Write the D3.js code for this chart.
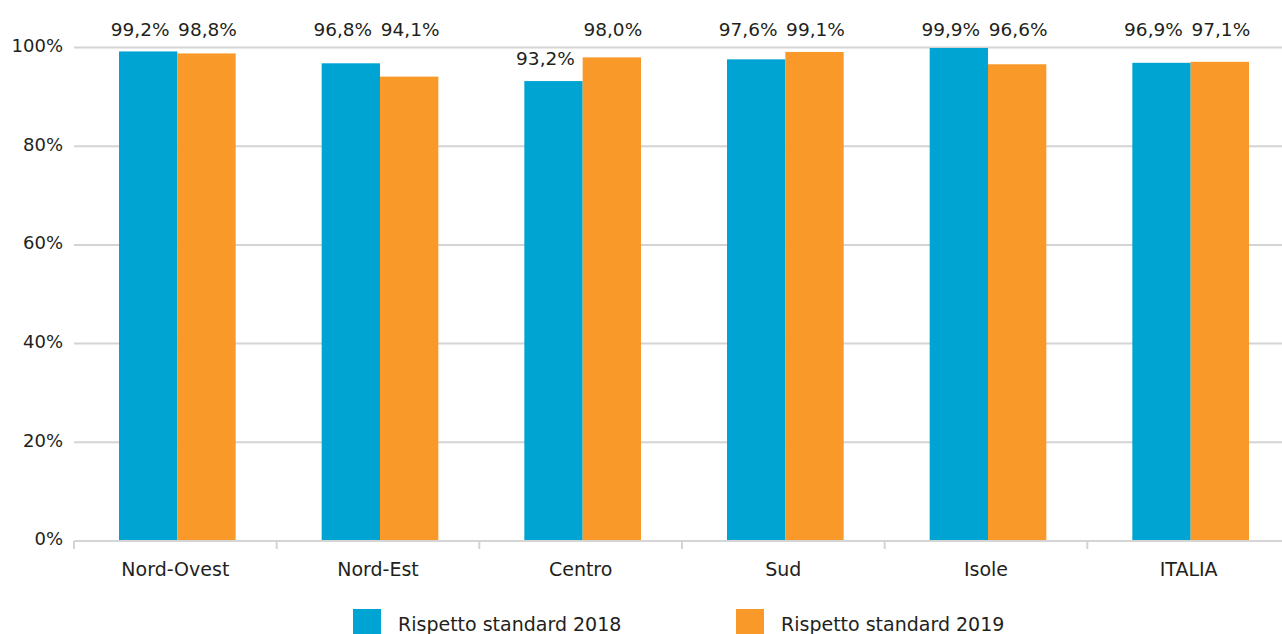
<!DOCTYPE html>
<html><head><meta charset="utf-8">
<script src="https://cdn.jsdelivr.net/npm/d3@7"></script>
<style>
html,body{margin:0;padding:0;background:#fff;}
svg{display:block;}
text{font-family:"DejaVu Sans",sans-serif;fill:#231f20;}
</style></head>
<body>
<svg id="c" width="1282" height="634"></svg>
<script>
const categories = ["Nord-Ovest","Nord-Est","Centro","Sud","Isole","ITALIA"];
const series2018 = [99.2, 96.8, 93.2, 97.6, 99.9, 96.9];
const series2019 = [98.8, 94.1, 98.0, 99.1, 96.6, 97.1];
const seriesNames = ["Rispetto standard 2018","Rispetto standard 2019"];
const yTicks = [0,20,40,60,80,100];
const colors = ["#00a4d3","#f8992a"];

const svg = d3.select("#c");
const x0 = d3.scaleBand().domain(categories).range([74,1290]).paddingInner(0).paddingOuter(0);
const x1 = d3.scaleBand().domain([0,1]).range([45, x0.bandwidth()-41]);
const y = d3.scaleLinear().domain([0,100]).range([541,47.5]);
const fmt = v => d3.format(".1f")(v).replace(".", ",") + "%";

// grid
svg.append("g").selectAll("line").data(yTicks.filter(d=>d>0)).join("line")
  .attr("x1",74).attr("x2",1282).attr("y1",d=>y(d)).attr("y2",d=>y(d))
  .attr("stroke","#d4d4d4").attr("stroke-width",2);

// y labels
svg.append("g").selectAll("text").data(yTicks).join("text")
  .attr("x",63).attr("y",d=>y(d)-2).attr("dy","0.35em").attr("text-anchor","end")
  .attr("font-size",18).text(d=>d+"%");

// bars
const data = categories.map((c,i)=>({c, vals:[series2018[i], series2019[i]]}));
const groups = svg.append("g").selectAll("g").data(data).join("g")
  .attr("transform", d=>`translate(${x0(d.c)},0)`);
groups.selectAll("rect").data(d=>d.vals.map((v,k)=>({v,k}))).join("rect")
  .attr("x",d=>x1(d.k)).attr("width",x1.bandwidth())
  .attr("y",d=>y(d.v)).attr("height",d=>y(0)-y(d.v))
  .attr("fill",d=>colors[d.k]);

// value labels
const minVal = d3.min(series2018.concat(series2019));
groups.selectAll("text").data(d=>d.vals.map((v,k)=>({v,k}))).join("text")
  .attr("x",d=>x1(d.k)+x1.bandwidth()/2 + (d.k===0?-8:1))
  .attr("y",d=> d.v===minVal ? y(d.v)-23 : 30)
  .attr("dy","0.35em").attr("text-anchor","middle").attr("font-size",18.5)
  .text(d=>fmt(d.v));

// x axis
const ax = svg.append("g");
ax.append("line").attr("x1",74).attr("x2",1282).attr("y1",y(0)).attr("y2",y(0))
  .attr("stroke","#d4d4d4").attr("stroke-width",2);
const edges = categories.map(c=>x0(c)).concat([x0.range()[1]]);
ax.selectAll("line.t").data(edges).join("line").attr("class","t")
  .attr("x1",d=>d).attr("x2",d=>d).attr("y1",y(0)).attr("y2",y(0)+8)
  .attr("stroke","#d4d4d4").attr("stroke-width",2);
ax.selectAll("text").data(categories).join("text")
  .attr("x",d=>x0(d)+x0.bandwidth()/2).attr("y",569).attr("dy","0.35em")
  .attr("text-anchor","middle").attr("font-size",19).text(d=>d);

// legend
const lx = [353, 736];
const lg = svg.append("g").selectAll("g").data(seriesNames).join("g")
  .attr("transform",(d,i)=>`translate(${lx[i]},609)`);
lg.append("rect").attr("width",28).attr("height",28).attr("fill",(d,i)=>colors[i]);
lg.append("text").attr("x",45).attr("y",15).attr("dy","0.35em").attr("font-size",19).text(d=>d);
</script>
</body></html>
